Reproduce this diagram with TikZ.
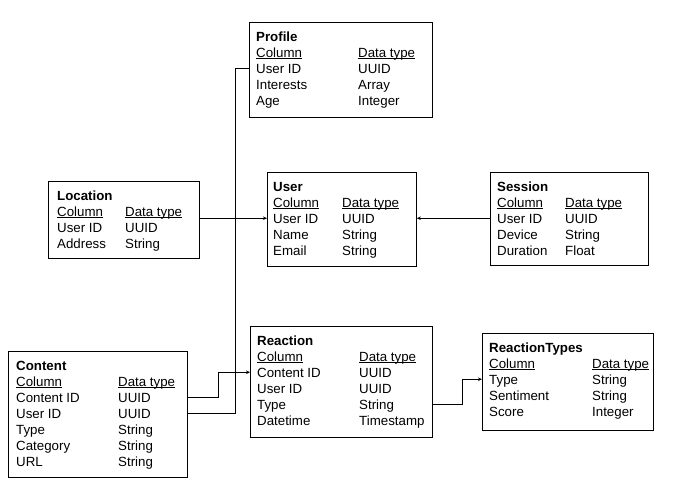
\documentclass[tikz,border=0pt]{standalone}
\usepackage{fontspec}
\setmainfont{Liberation Sans}
\usepackage{tikz}
\usetikzlibrary{arrows.meta}

\begin{document}
\begin{tikzpicture}[x=1pt,y=-1pt,
            font=\fontsize{13.3}{16}\selectfont,
            tbl/.style 2 args={draw, line width=0.8pt, minimum width=#1, minimum height=#2, anchor=north west, inner sep=0pt},
            txt/.style={anchor=base west, inner sep=0pt, text height=9.5pt, text depth=0pt},
            ttl/.style={txt, font=\fontsize{13.3}{16}\selectfont\bfseries},
            conn/.style={line width=0.8pt, -{Stealth[length=4pt,width=3.5pt]}}]
        \useasboundingbox (0,0) rectangle (699,485);

        % Profile
        \node[tbl={183}{95}] (profile) at (249,22) {};
        \node[ttl] at (256,41) {Profile};
        \node[txt] at (256,57) {\underline{Column}};
        \node[txt] at (358,57) {\underline{\smash{Data type}}};
        \foreach \c/\t [count=\i] in {User ID/UUID, Interests/Array, Age/Integer}
            {\node[txt] (pr-\i) at (256,57+16*\i) {\c}; \node[txt] at (358,57+16*\i) {\t};}

        % Location
        \node[tbl={151}{77}] (location) at (48,181) {};
        \node[ttl] at (57,200) {Location};
        \node[txt] at (57,216) {\underline{Column}};
        \node[txt] at (125,216) {\underline{\smash{Data type}}};
        \foreach \c/\t [count=\i] in {User ID/UUID, Address/String}
            {\node[txt] (lo-\i) at (57,216+16*\i) {\c}; \node[txt] at (125,216+16*\i) {\t};}

        % User
        \node[tbl={149}{94}] (user) at (267,172) {};
        \node[ttl] at (273,191) {User};
        \node[txt] at (273,207) {\underline{Column}};
        \node[txt] at (342,207) {\underline{\smash{Data type}}};
        \foreach \c/\t [count=\i] in {User ID/UUID, Name/String, Email/String}
            {\node[txt] (us-\i) at (273,207+16*\i) {\c}; \node[txt] at (342,207+16*\i) {\t};}

        % Session
        \node[tbl={158}{93}] (session) at (490,172) {};
        \node[ttl] at (497,191) {Session};
        \node[txt] at (497,207) {\underline{Column}};
        \node[txt] at (565,207) {\underline{\smash{Data type}}};
        \foreach \c/\t [count=\i] in {User ID/UUID, Device/String, Duration/Float}
            {\node[txt] (ss-\i) at (497,207+16*\i) {\c}; \node[txt] at (565,207+16*\i) {\t};}

        % Content
        \node[tbl={179}{126}] (content) at (8,351) {};
        \node[ttl] at (16,370) {Content};
        \node[txt] at (16,386) {\underline{Column}};
        \node[txt] at (118,386) {\underline{\smash{Data type}}};
        \foreach \c/\t [count=\i] in {Content ID/UUID, User ID/UUID, Type/String, Category/String, URL/String}
            {\node[txt] (ct-\i) at (16,386+16*\i) {\c}; \node[txt] at (118,386+16*\i) {\t};}

        % Reaction
        \node[tbl={182}{111}] (reaction) at (250,326) {};
        \node[ttl] at (257,345) {Reaction};
        \node[txt] at (257,361) {\underline{Column}};
        \node[txt] at (359,361) {\underline{\smash{Data type}}};
        \foreach \c/\t [count=\i] in {Content ID/UUID, User ID/UUID, Type/String, Datetime/Timestamp}
            {\node[txt] (re-\i) at (257,361+16*\i) {\c}; \node[txt] at (359,361+16*\i) {\t};}

        % ReactionTypes
        \node[tbl={171}{97}] (rtypes) at (482,333) {};
        \node[ttl] at (489,352) {ReactionTypes};
        \node[txt] at (489,368) {\underline{Column}};
        \node[txt] at (592,368) {\underline{\smash{Data type}}};
        \foreach \c/\t [count=\i] in {Type/String, Sentiment/String, Score/Integer}
            {\node[txt] (rt-\i) at (489,368+16*\i) {\c}; \node[txt] at (592,368+16*\i) {\t};}

        % links
        \coordinate (trunk) at (235,0);
        \coordinate (jog) at (218,0);
        \coordinate (jog2) at (462,0);
        \draw[conn] (location.east |- us-1) -- (user.west |- us-1);
        \draw[conn] (session.west |- ss-1) -- (user.east |- ss-1);
        \draw[line width=0.8pt] (content.east |- ct-2) -| (trunk |- pr-1) -- (profile.west |- pr-1);
        \draw[conn] (content.east |- ct-1) -| (jog |- re-1) -- (reaction.west |- re-1);
        \draw[conn] (reaction.east |- re-3) -| (jog2 |- rt-1) -- (rtypes.west |- rt-1);
    \end{tikzpicture}
\end{document}
